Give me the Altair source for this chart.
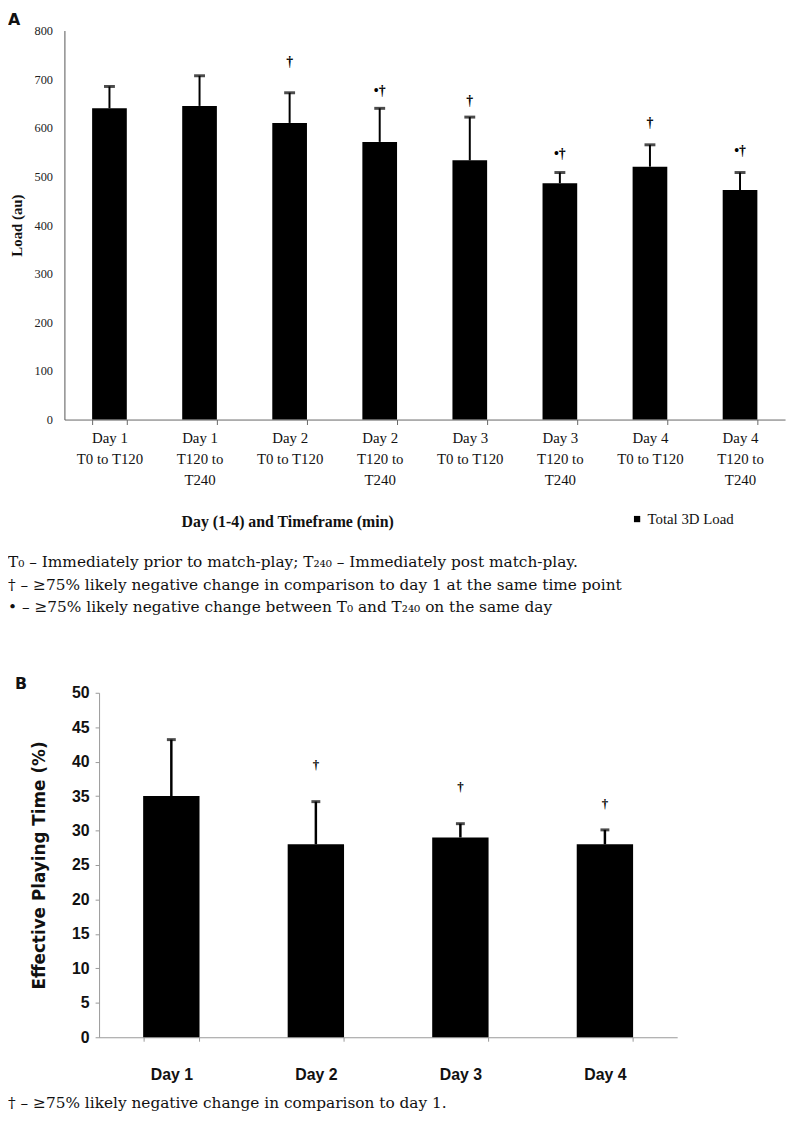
import altair as alt
import pandas as pd

# ---------------- data ----------------
a_labels = ["Day 1|T0 to T120", "Day 1|T120 to|T240", "Day 2|T0 to T120", "Day 2|T120 to|T240",
            "Day 3|T0 to T120", "Day 3|T120 to|T240", "Day 4|T0 to T120", "Day 4|T120 to|T240"]
a_load = [640, 645, 610, 571, 533, 486, 520, 472]
a_err_top = [685, 707, 672, 640, 622, 508, 565, 508]
a_marks = ["", "", "†", "•†", "†", "•†", "†", "•†"]
a_mark_y = [0, 0, 735, 676, 655, 545, 609, 552]
a_series = ["Total 3D Load"] * 8
a_ticks = [0, 100, 200, 300, 400, 500, 600, 700, 800]

b_days = ["Day 1", "Day 2", "Day 3", "Day 4"]
b_ept = [35, 28, 29, 28]
b_err_top = [43.2, 34.2, 31.0, 30.1]
b_marks = ["", "†", "†", "†"]
b_mark_y = [0, 39.5, 36.3, 33.8]
b_ticks = [0, 5, 10, 15, 20, 25, 30, 35, 40, 45, 50]

notes_a = [
    "T₀ – Immediately prior to match-play; T₂₄₀ – Immediately post match-play.",
    "† – ≥75% likely negative change in comparison to day 1 at the same time point",
    "• – ≥75% likely negative change between T₀ and T₂₄₀ on the same day",
]
notes_b = ["† – ≥75% likely negative change in comparison to day 1."]

SERIF = "Liberation Serif"
NOTE = "DejaVu Serif"
COND = "Liberation Sans, sans-serif"

dfa = pd.DataFrame({"cat": a_labels, "load": a_load, "top": a_err_top,
                    "mark": a_marks, "my": a_mark_y, "series": a_series})
dfb = pd.DataFrame({"day": b_days, "ept": b_ept, "top": b_err_top,
                    "mark": b_marks, "my": b_mark_y})

# ---------------- panel A ----------------
xa = alt.X("cat:N", sort=a_labels,
           scale=alt.Scale(range=[57, 785], paddingInner=0.615, paddingOuter=0.3075),
           axis=alt.Axis(orient="bottom", offset=-720, title="Day (1-4) and Timeframe (min)",
                         labelExpr="datum.value ? split(datum.value, '|') : ''", labelAngle=0,
                         labelFont=SERIF, labelFontSize=15, labelColor="#111",
                         labelLineHeight=21.5, labelPadding=6, labelBaseline="top",
                         tickBand="extent", tickSize=5, tickColor="#666", domainColor="#666",
                         titleFont=SERIF, titleFontSize=16, titleFontWeight="bold",
                         titleColor="#111", titleX=282, titleY=103, titleBaseline="middle"))
ya_scale = alt.Scale(domain=[0, 800], range=[410, 17], nice=False)
ya_axis = alt.Axis(orient="left", offset=-57, values=a_ticks, title="Load (au)",
                   labelFont=SERIF, labelFontSize=12.5, labelColor="#222", labelPadding=12,
                   ticks=False, domainColor="#555", grid=False,
                   titleFont=SERIF, titleFontSize=15, titleFontWeight="bold", titleColor="#111",
                   titleAngle=270, titleBaseline="middle", titleX=-48)

base_a = alt.Chart(dfa)
bars_a = base_a.mark_bar(color="black").encode(
    x=xa,
    y=alt.Y("load:Q", scale=ya_scale, axis=ya_axis),
    color=alt.Color("series:N", scale=alt.Scale(range=["#000000"]),
                    legend=alt.Legend(orient="none", legendX=628, legendY=503, title=None,
                                      symbolType="square", symbolSize=40, labelFont=SERIF,
                                      labelFontSize=15, labelColor="#111", labelOffset=3,
                                      padding=0)),
)
err_a = base_a.mark_rule(color="black", strokeWidth=2).encode(
    x=alt.X("cat:N", sort=a_labels), y="load:Q", y2="top:Q")
cap_a = base_a.mark_tick(color="black", thickness=3, size=11).encode(
    x=alt.X("cat:N", sort=a_labels), y="top:Q")
mk_a = base_a.mark_text(font=SERIF, fontSize=14, fontWeight="bold", baseline="middle",
                        color="#000").encode(
    x=alt.X("cat:N", sort=a_labels), y="my:Q", text="mark:N")
panel_a = alt.layer(bars_a, err_a, cap_a, mk_a)

# ---------------- panel B ----------------
xb = alt.X("day:N", sort=b_days,
           scale=alt.Scale(range=[92, 676], paddingInner=0.61, paddingOuter=0.305),
           axis=alt.Axis(orient="bottom", offset=-96, title=None, labelAngle=0,
                         labelFont=COND, labelFontSize=16, labelFontWeight="bold",
                         labelColor="#111", labelPadding=26, tickBand="extent", tickSize=4,
                         labelExpr="datum.value ? datum.value : ''",
                         tickColor="#999", domainColor="#999"))
yb_scale = alt.Scale(domain=[0, 50], range=[1034, 686], nice=False)
yb_axis = alt.Axis(orient="left", offset=-92, values=b_ticks,
                   title="Effective Playing Time (%)",
                   labelFont=COND, labelFontSize=16, labelFontWeight="bold", labelColor="#111",
                   labelPadding=6, tickSize=4, tickColor="#999", domainColor="#999", grid=False,
                   titleFont="DejaVu Sans", titleFontSize=17, titleFontWeight="bold",
                   titleColor="#111", titleAngle=270, titleBaseline="middle", titleX=-60)

base_b = alt.Chart(dfb)
bars_b = base_b.mark_bar(color="black").encode(
    x=xb, y=alt.Y("ept:Q", scale=yb_scale, axis=yb_axis))
err_b = base_b.mark_rule(color="black", strokeWidth=2.5).encode(
    x=alt.X("day:N", sort=b_days), y="ept:Q", y2="top:Q")
cap_b = base_b.mark_tick(color="black", thickness=3, size=9).encode(
    x=alt.X("day:N", sort=b_days), y="top:Q")
mk_b = base_b.mark_text(font=SERIF, fontSize=13, fontWeight="bold", baseline="middle",
                        color="#000").encode(
    x=alt.X("day:N", sort=b_days), y="my:Q", text="mark:N")
panel_b = alt.layer(bars_b, err_b, cap_b, mk_b)

# ---------------- annotations ----------------
def label(txt, x, y, **kw):
    return alt.Chart(pd.DataFrame({"t": [txt]})).mark_text(
        align="left", baseline="middle", **kw).encode(
        text="t:N", x=alt.value(x), y=alt.value(y))

ann = [label("A", 0, 6, font="DejaVu Sans", fontSize=16, fontWeight="bold", color="#111"),
       label("B", 7, 677, font="DejaVu Sans", fontSize=16, fontWeight="bold", color="#111")]
note_y = [554, 577, 599]
for txt, yy in zip(notes_a, note_y):
    ann.append(label(txt, 0, yy, font=NOTE, fontSize=15.5, color="#111"))
ann.append(label(notes_b[0], 0, 1100, font=NOTE, fontSize=15.5, color="#111"))

chart = alt.layer(panel_a, panel_b, *ann).resolve_scale(
    x="independent", y="independent", color="independent"
).resolve_axis(x="independent", y="independent").properties(
    width=792, height=1130, autosize=alt.AutoSizeParams(type="none"), padding=0
).configure_view(stroke=None)

chart.save("out.html", embed_options={"renderer": "svg", "actions": False})
